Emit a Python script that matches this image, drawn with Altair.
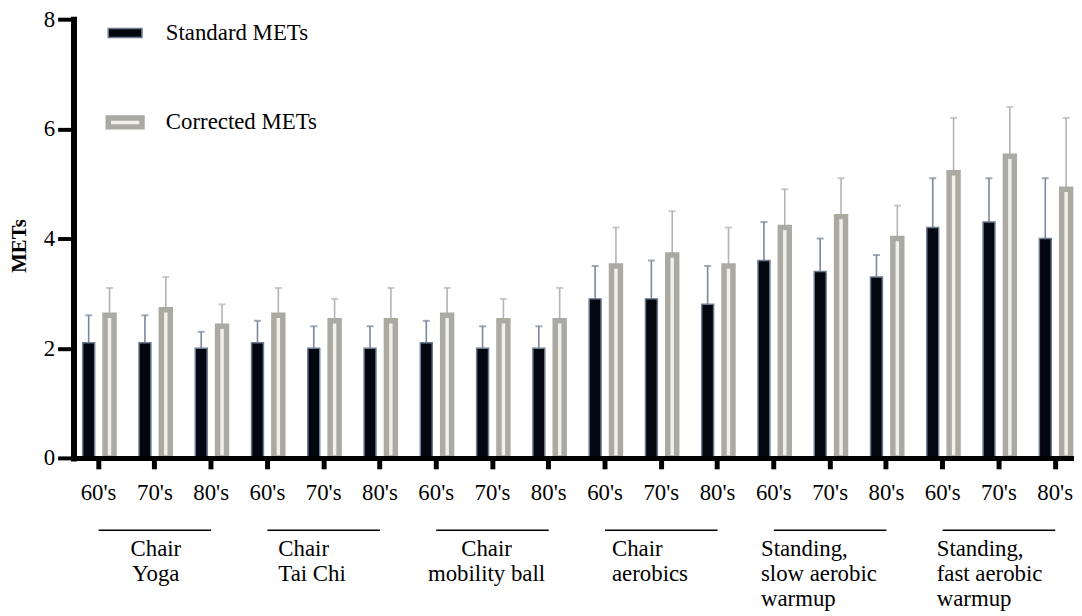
import altair as alt
import pandas as pd

# ---------------- data ----------------
groups = ["Chair Yoga", "Chair Tai Chi", "Chair mobility ball", "Chair aerobics",
          "Standing, slow aerobic warmup", "Standing, fast aerobic warmup"]
group_text = ["Chair\nYoga", "Chair\nTai Chi", "Chair\nmobility ball", "Chair\naerobics",
              "Standing,\nslow aerobic\nwarmup", "Standing,\nfast aerobic\nwarmup"]
decades = ["60's", "70's", "80's"]
series = ["Standard METs", "Corrected METs"]

std_mean = [2.1, 2.1, 2.0, 2.1, 2.0, 2.0, 2.1, 2.0, 2.0, 2.9, 2.9, 2.8, 3.6, 3.4, 3.3, 4.2, 4.3, 4.0]
std_sd = [0.5, 0.5, 0.3, 0.4, 0.4, 0.4, 0.4, 0.4, 0.4, 0.6, 0.7, 0.7, 0.7, 0.6, 0.4, 0.9, 0.8, 1.1]
cor_mean = [2.6, 2.7, 2.4, 2.6, 2.5, 2.5, 2.6, 2.5, 2.5, 3.5, 3.7, 3.5, 4.2, 4.4, 4.0, 5.2, 5.5, 4.9]
cor_sd = [0.5, 0.6, 0.4, 0.5, 0.4, 0.6, 0.5, 0.4, 0.6, 0.7, 0.8, 0.7, 0.7, 0.7, 0.6, 1.0, 0.9, 1.3]

# ---------------- tables ----------------
keys, rows = [], []
for gi, g in enumerate(groups):
    for di, d in enumerate(decades):
        i = gi * 3 + di
        k = f"{g}|{d}"
        keys.append(k)
        rows.append(dict(key=k, series=series[0], mean=std_mean[i], upper=round(std_mean[i] + std_sd[i], 2)))
        rows.append(dict(key=k, series=series[1], mean=cor_mean[i], upper=round(cor_mean[i] + cor_sd[i], 2)))
df = pd.DataFrame(rows)

grp_df = pd.DataFrame(dict(
    group=groups,
    first=[f"{g}|{decades[0]}" for g in groups],
    mid=[f"{g}|{decades[1]}" for g in groups],
    last=[f"{g}|{decades[2]}" for g in groups],
    label=group_text,
))

# ---------------- styles ----------------
FONT = "Liberation Serif"
xscale = alt.Scale(domain=keys, paddingInner=0.5, paddingOuter=0.14, align=0.7)
yscale = alt.Scale(domain=[0, 8], nice=False)
fill_scale = alt.Scale(domain=series, range=["#03070f", "#f2f1e9"])
stroke_scale = alt.Scale(domain=series, range=["#6d7b91", "#aaa9a2"])
sw_scale = alt.Scale(domain=series, range=[1.5, 5.5])

bar_style = {series[0]: dict(width=12, off=-10, err="#7b879a"),
             series[1]: dict(width=9, off=11, err="#b3b3b3")}
# label alignment per group: (align, anchor column, dx)
label_style = {
    groups[0]: ("center", "mid", 1),
    groups[1]: ("left", "first", 11),
    groups[2]: ("center", "mid", -6),
    groups[3]: ("left", "first", 7),
    groups[4]: ("left", "first", -13),
    groups[5]: ("left", "first", -6),
}

x_axis = alt.Axis(
    labelExpr="split(datum.label, '|')[1]", labelAngle=0, title=None,
    domainColor="black", domainWidth=5, domainCap="square",
    tickColor="black", tickWidth=5, tickSize=11,
    labelFont=FONT, labelFontSize=23, labelColor="black", labelPadding=13,
    grid=False, zindex=1,
)
y_axis = alt.Axis(
    values=[0, 2, 4, 6, 8], format="d", title="METs", grid=False, zindex=1,
    domainColor="black", domainWidth=6, domainCap="square",
    tickColor="black", tickWidth=4, tickSize=16,
    labelFont=FONT, labelFontSize=23, labelColor="black", labelPadding=3,
    titleFont=FONT, titleFontSize=21, titleFontWeight="bold", titleColor="black",
    titleX=-54, titleY=228, titleAngle=270, titleAlign="center", titleBaseline="middle",
)

X = lambda field: alt.X(f"{field}:N", scale=xscale, sort=keys, axis=x_axis)
Y = lambda field: alt.Y(f"{field}:Q", scale=yscale, axis=y_axis)

base = alt.Chart(df)
layers = []
for s in series:
    st = bar_style[s]
    sub = base.transform_filter(alt.datum.series == s)
    layers.append(sub.mark_rule(xOffset=st["off"], strokeWidth=1.6, color=st["err"]).encode(
        x=X("key"), y=Y("mean"), y2="upper:Q",
    ))
    layers.append(sub.mark_tick(xOffset=st["off"], size=7, thickness=2, color=st["err"],
                                orient="horizontal").encode(
        x=X("key"), y=Y("upper"),
    ))
for s in series:
    st = bar_style[s]
    sub = base.transform_filter(alt.datum.series == s)
    layers.append(sub.mark_bar(width=st["width"], xOffset=st["off"]).encode(
        x=X("key"), y=Y("mean"),
        fill=alt.Fill("series:N", scale=fill_scale, legend=alt.Legend(title=None)),
        stroke=alt.Stroke("series:N", scale=stroke_scale, legend=alt.Legend(title=None)),
        strokeWidth=alt.StrokeWidth("series:N", scale=sw_scale, legend=alt.Legend(title=None)),
    ))

gbase = alt.Chart(grp_df)
layers.append(gbase.mark_rule(color="black", strokeWidth=1.5).encode(
    x=X("first"), x2="last:N", y=alt.value(515),
))
for g in groups:
    align, anchor, dx = label_style[g]
    layers.append(gbase.transform_filter(alt.datum.group == g).mark_text(
        align=align, baseline="alphabetic", dx=dx, font=FONT, fontSize=23, color="black",
        lineBreak="\n", lineHeight=25,
    ).encode(
        x=X(anchor), y=alt.value(541), text="label:N",
    ))

chart = alt.layer(*layers).properties(
    width=1008, height=442,
    padding={"left": 66, "top": 9, "right": 0, "bottom": 156},
    autosize=alt.AutoSizeParams(type="none"),
).configure_view(stroke=None).configure_legend(
    orient="none", legendX=32, legendY=-4, direction="vertical", padding=0,
    symbolType="M-1,-0.265H1V0.265H-1Z", symbolSize=1156,
    labelFont=FONT, labelFontSize=23, labelColor="black", labelOffset=21,
    rowPadding=58, labelLimit=400,
)

chart.save("out.html", embed_options={"renderer": "svg", "actions": False})
